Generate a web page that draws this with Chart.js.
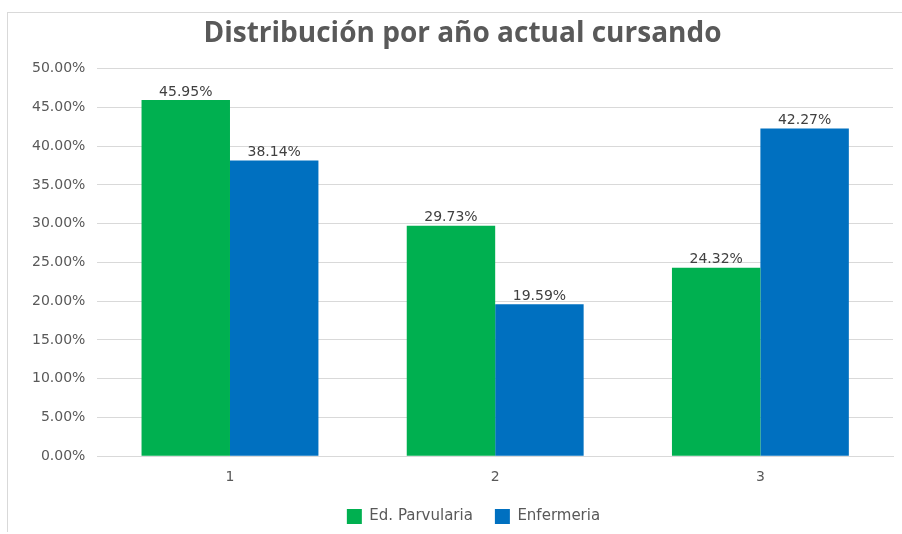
<!DOCTYPE html>
<html>
<head>
<meta charset="utf-8">
<script src="https://cdn.jsdelivr.net/npm/chart.js@4.4.1/dist/chart.umd.min.js"></script>
<style>
  body { margin: 0; background: #fff; }
  #caja { position: absolute; left: 7px; top: 12px; width: 895px; height: 520px; border-left: 1px solid #d9d9d9; border-top: 1px solid #d9d9d9; box-sizing: border-box; }
</style>
</head>
<body>
<div id="caja"><canvas id="grafico"></canvas></div>
<script>
// DATOS
const anos = ['1', '2', '3'];
const parvularia = [45.95, 29.73, 24.32];
const enfermeria = [38.14, 19.59, 42.27];

// etiquetas encima de las barras
const etiquetas = {
  id: 'etiquetas',
  afterDatasetsDraw(chart) {
    const ctx = chart.ctx;
    ctx.save();
    ctx.font = '14px "DejaVu Sans"';
    ctx.fillStyle = '#404040';
    ctx.textAlign = 'center';
    ctx.textBaseline = 'bottom';
    chart.data.datasets.forEach((ds, i) => {
      chart.getDatasetMeta(i).data.forEach((bar, j) => {
        ctx.fillText(ds.data[j].toFixed(2) + '%', bar.x, bar.y - 1);
      });
    });
    ctx.restore();
  }
};

// ajusta posicion de titulo y leyenda (como en Excel)
const ajustePos = {
  id: 'ajustePos',
  afterLayout(chart) {
    const ley = chart.legend;
    chart.titleBlock.left += 6; chart.titleBlock.right += 6;
    ley.left += 17; ley.right += 17;
    ley.top -= 12;
    ley.bottom = ley.top + 60;
    ley.height = 60;
  }
};

const ctx = document.getElementById('grafico').getContext('2d');
new Chart(ctx, {
  type: 'bar',
  data: {
    labels: anos,
    datasets: [
      { label: 'Ed. Parvularia', data: parvularia, backgroundColor: '#00b050' },
      { label: 'Enfermeria', data: enfermeria, backgroundColor: '#0070c0' }
    ]
  },
  options: {
    responsive: true,
    maintainAspectRatio: false,
    animation: false,
    layout: { padding: { left: 12, right: 9, top: 0, bottom: 1 } },
    datasets: { bar: { categoryPercentage: 0.667, barPercentage: 1 } },
    plugins: {
      title: {
        display: true,
        text: 'Distribución por año actual cursando',
        color: '#595959',
        font: { family: '"Open Sans"', size: 28, weight: 'bold' },
        padding: { top: 4, bottom: 18 }
      },
      legend: {
        position: 'bottom',
        maxHeight: 32,
        labels: {
          color: '#595959',
          font: { family: '"DejaVu Sans"', size: 15 },
          boxWidth: 15,
          boxHeight: 15,
          padding: 22
        }
      },
      tooltip: { enabled: false }
    },
    scales: {
      x: {
        grid: { display: false, drawTicks: false },
        border: { color: '#d9d9d9' },
        ticks: { color: '#595959', font: { family: '"DejaVu Sans"', size: 14 }, padding: 13 }
      },
      y: {
        min: 0,
        max: 50,
        grid: { color: '#d9d9d9', drawTicks: false },
        border: { display: false },
        ticks: {
          stepSize: 5,
          color: '#595959',
          font: { family: '"DejaVu Sans"', size: 14 },
          padding: 12,
          callback: v => v.toFixed(2) + '%'
        }
      }
    }
  },
  plugins: [etiquetas, ajustePos]
});
</script>
</body>
</html>
